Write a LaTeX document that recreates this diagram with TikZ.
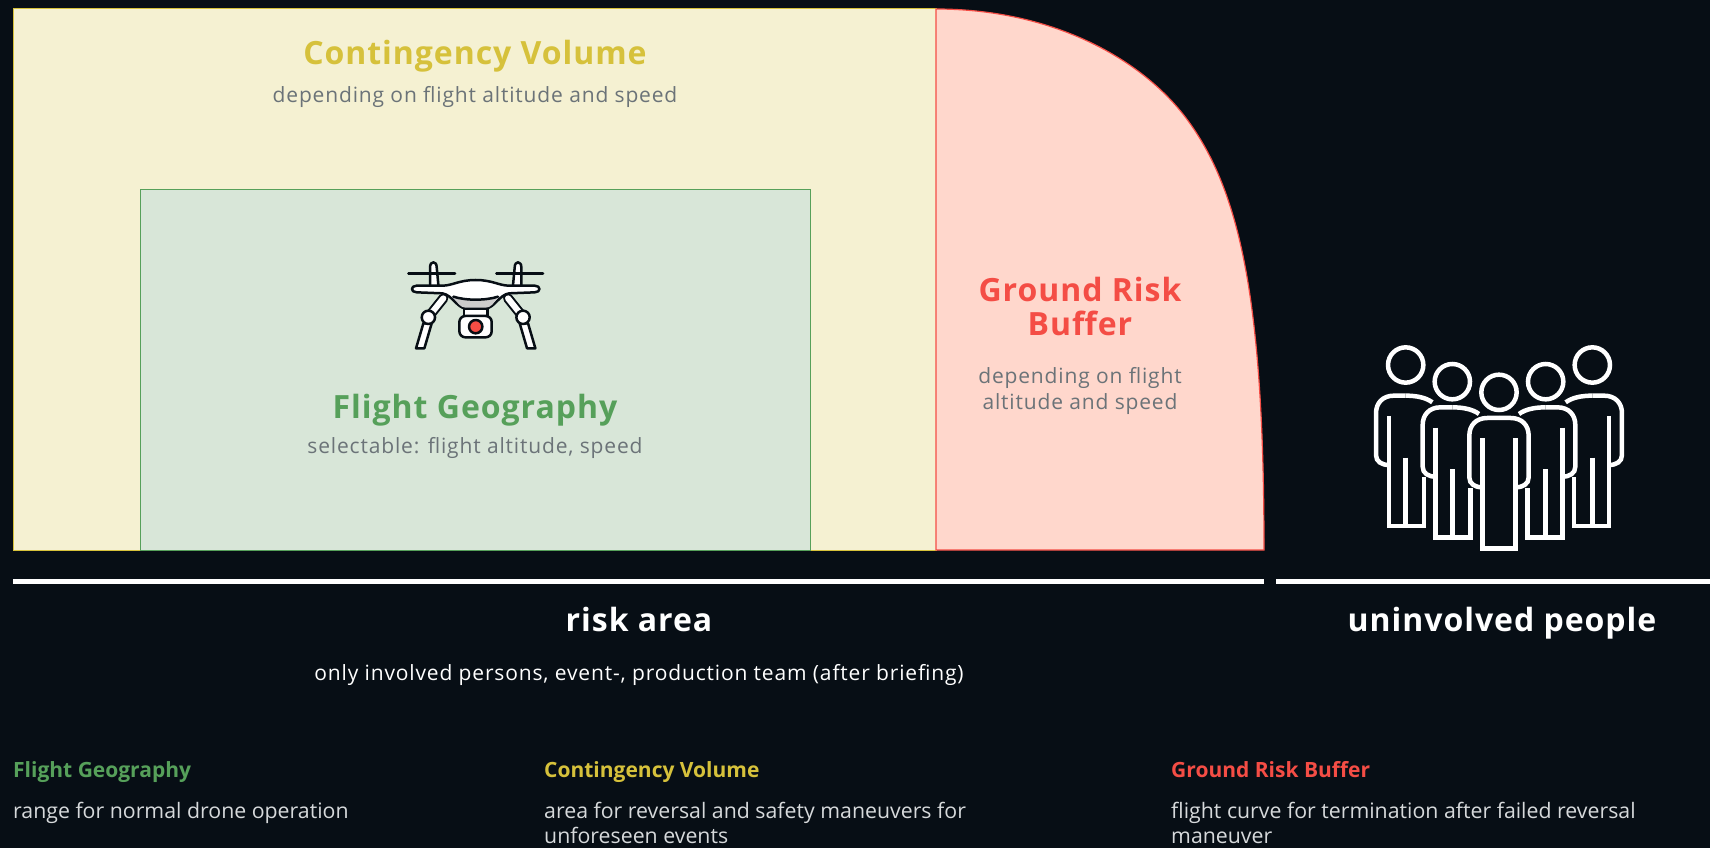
\documentclass[tikz,border=0pt]{standalone}
\usepackage{fontspec}
\setmainfont{Open Sans}
\usetikzlibrary{calc}
\definecolor{pagebg}{HTML}{070E15}
\definecolor{contfill}{HTML}{F5F1D2}
\definecolor{contline}{HTML}{D6C13B}
\definecolor{geofill}{HTML}{D8E6D8}
\definecolor{geoline}{HTML}{56A05A}
\definecolor{bufffill}{HTML}{FFD7CC}
\definecolor{buffline}{HTML}{F44D45}
\definecolor{subgray}{HTML}{6B7378}
\definecolor{softwhite}{HTML}{D6D9DB}
\tikzset{
	bigtitle/.style={align=center, inner sep=0pt, font=\fontsize{32}{34}\selectfont\bfseries\addfontfeature{LetterSpace=3}},
	subtitle/.style={align=center, inner sep=0pt, text=subgray, font=\fontsize{21}{26}\selectfont\addfontfeature{LetterSpace=4}},
	legendhead/.style={anchor=base west, inner sep=0pt, font=\fontsize{21}{26}\selectfont\bfseries},
	legendtext/.style={anchor=north west, inner sep=0pt, align=left, text=softwhite, font=\fontsize{21.3}{25}\selectfont},
	rulebar/.style={white, line width=5pt},
	droneline/.style={draw=pagebg, line width=2.5pt, line join=round, line cap=round},
	manline/.style={white, line width=4.5pt, line join=miter},
	pics/sidehalf/.style={code={
		\draw[manline] (0,77) -- (-35,77) .. controls (-70,77) and (-89,100) .. (-89,130) -- (-89,255) .. controls (-89,275) and (-72,285) .. (-50,285);
		\draw[manline] (-50,138) -- (-50,468) -- (0,468);
	}},
	pics/sideman/.style={code={
		\pic {sidehalf};
		\draw[manline] (0,77) .. controls (30,77) and (60,82) .. (80,97);
		\draw[manline] (0,263) -- (0,468) -- (55,468) -- (55,320);
	}}
}
\begin{document}
\begin{tikzpicture}[x=1pt, y=-1pt]
	\useasboundingbox[fill=pagebg] (0,0) rectangle (1710,848);

	\draw[fill=contfill, draw=contline, line width=1pt] (13,9) rectangle (936,550);
	\draw[fill=geofill, draw=geoline, line width=1pt] (140,189) rectangle (810,550);
	\draw[fill=bufffill, draw=buffline, line width=1.2pt] (936,9) .. controls (1050,9) and (1140,57) .. (1186,118) .. controls (1240,190) and (1264,300) .. (1264,550) -- (936,550) -- cycle;

	\path (475,64.5) node[bigtitle, anchor=base, text=contline] (conttitle) {Contingency Volume}
		(475,97) node[subtitle] (contsub) {depending on flight altitude and speed}
		(475,418) node[bigtitle, anchor=base, text=geoline] (geotitle) {Flight Geography}
		(475,448) node[subtitle] (geosub) {selectable: flight altitude, speed}
		(1080,306) node[bigtitle, text=buffline] (bufftitle) {Ground Risk\\Buffer}
		(1080,391) node[subtitle] (buffsub) {depending on flight\\altitude and speed}
		(639,631) node[bigtitle, anchor=base, text=white] (risktitle) {risk area}
		(639,675) node[subtitle, text=white] (risksub) {only involved persons, event-, production team (after briefing)}
		(1502,631) node[bigtitle, anchor=base, text=white] (peopletitle) {uninvolved people}
		(13,777) node[legendhead, text=geoline] (geohead) {Flight Geography}
		(13,802) node[legendtext] (geotext) {range for normal drone operation}
		(544,777) node[legendhead, text=contline] (conthead) {Contingency Volume}
		(544,802) node[legendtext] (conttext) {area for reversal and safety maneuvers for\\unforeseen events}
		(1171,777) node[legendhead, text=buffline] (buffhead) {Ground Risk Buffer}
		(1171,802) node[legendtext] (bufftext) {flight curve for termination after failed reversal\\maneuver};

	\coordinate (riskleft) at (13,581);
	\coordinate (riskright) at (1264,581);
	\coordinate (peopleleft) at (1276,581);
	\coordinate (peopleright) at (1710,581);
	\draw[rulebar] (riskleft) -- (riskright);
	\draw[rulebar] (peopleleft) -- (peopleright);

	\begin{scope}[shift={(475.7,240)}, x=0.3333pt, y=-0.3333pt]
		\foreach \sx in {1,-1} {
			\begin{scope}[xscale=\sx]
				\draw[pagebg, line width=10pt, line cap=round] (-97,175) -- (-137,225);
				\draw[white, line width=6pt, line cap=round] (-97,175) -- (-137,225);
				\draw[droneline, fill=white] (-157,250) -- (-132,250) -- (-154,325) -- (-179,325) -- cycle;
				\draw[droneline, fill=white] (-142,232) circle (20);
				\draw[droneline, fill=white] (-137,135) -- (-137,82) .. controls (-137,62) and (-117,62) .. (-117,82) -- (-112,135);
				\draw[droneline] (-202,100) -- (-62,100);
			\end{scope}
		}
		\draw[droneline, fill=white] (-35,205) rectangle (35,228);
		\draw[droneline, fill=white, rounded corners=6pt] (-49,228) rectangle (48,292);
		\draw[droneline, fill=buffline] (0,260) circle (20);
		\draw[droneline, fill=white] (-177,137) -- (-100,137) .. controls (-70,137) and (-50,120) .. (0,120) .. controls (50,120) and (70,137) .. (100,137) -- (177,137) .. controls (196,137) and (196,157) .. (177,157) -- (100,160) .. controls (70,165) and (55,205) .. (30,205) -- (-30,205) .. controls (-55,205) and (-70,165) .. (-100,160) -- (-177,157) .. controls (-196,157) and (-196,137) .. (-177,137) -- cycle;
		\fill[gray!40] (-67,170) .. controls (-30,182) and (30,182) .. (67,170) .. controls (55,190) and (45,203) .. (30,203) -- (-30,203) .. controls (-45,203) and (-55,190) .. (-67,170) -- cycle;
		\draw[droneline] (-67,170) .. controls (-30,182) and (30,182) .. (67,170);
	\end{scope}

	\begin{scope}[shift={(1350,330)}, x=0.3333pt, y=-0.3333pt]
		\foreach \hx/\hy in {167/105, 307/155, 587/155, 727/105, 447/187} {
			\draw[manline] (\hx,\hy) circle (53);
		}
		\pic at (167,120) {sideman};
		\pic at (307,155) {sideman};
		\pic at (447,187) {sidehalf};
		\begin{scope}[x=-0.3333pt]
			\pic at (-587,155) {sideman};
			\pic at (-727,120) {sideman};
			\pic at (-447,187) {sidehalf};
		\end{scope}
	\end{scope}
\end{tikzpicture}
\end{document}
